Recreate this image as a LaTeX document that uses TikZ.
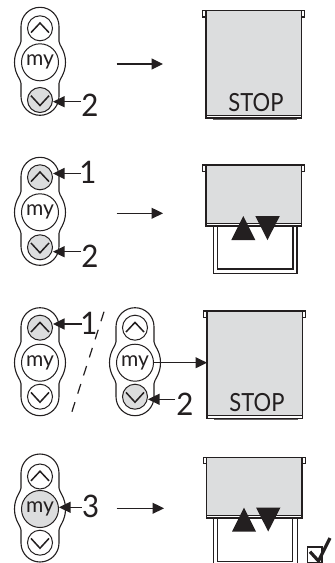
\documentclass[tikz,border=0pt]{standalone}
\usepackage{fontspec}
\setmainfont{Lato}
\usetikzlibrary{arrows.meta}
\definecolor{shade}{RGB}{220,221,222}
\definecolor{ink}{RGB}{35,31,32}
\tikzset{
  x=1pt,y=-1pt,
  btn/.style={circle,draw=ink,line width=1pt,minimum size=#1,inner sep=0pt,font=\fontsize{21}{21}\selectfont,text=ink},
  chev/.style={draw=ink,line width=1.5pt,line join=miter},
  pointer/.style={draw=ink,line width=1.2pt,-{Triangle[length=11.5pt,width=11pt]}},
  num/.style={font=\fontsize{31}{31}\selectfont,text=ink,inner sep=0pt,xscale=.95},
  blind/.style={draw=ink,line width=1.1pt,fill=shade},
  thinline/.style={draw=ink,line width=1.1pt},
  tri/.style={fill=ink,draw=none},
  stoplabel/.style={font=\fontsize{25}{25}\selectfont,text=ink,inner sep=0pt,xscale=.88}
}
% remote: #1 prefix, #2 x, #3 y(my), #4 up fill, #5 my fill, #6 down fill, #7 up offset, #8 down offset
\newcommand{\remote}[8]{
  \draw[draw=ink,line width=1.1pt] (#2-19,#3-36)
    arc[start angle=180,end angle=360,radius=19]
    -- (#2+19,#3-21) .. controls (#2+19,#3-17) and (#2+25.5,#3-12) .. (#2+25.5,#3)
    .. controls (#2+25.5,#3+12) and (#2+19,#3+17) .. (#2+19,#3+21)
    -- (#2+19,#3+34) arc[start angle=0,end angle=180,radius=19]
    -- (#2-19,#3+21) .. controls (#2-19,#3+17) and (#2-25.5,#3+12) .. (#2-25.5,#3)
    .. controls (#2-25.5,#3-12) and (#2-19,#3-17) .. (#2-19,#3-21) -- cycle;
  \node[btn=25pt,fill=#4] (#1up) at (#2,#3+#7) {};
  \node[btn=37pt,fill=#5] (#1my) at (#2,#3) {my};
  \node[btn=25pt,fill=#6] (#1dn) at (#2,#3+#8) {};
  \draw[chev] (#2-9,#3+#7+4.3) -- (#2,#3+#7-5.3) -- (#2+9,#3+#7+4.3);
  \draw[chev] (#2-9,#3+#8-4.3) -- (#2,#3+#8+5.5) -- (#2+9,#3+#8-4.3);
}
% blind: #1 left x, #2 top y, #3 bottom y
\newcommand{\blindbox}[3]{
  \draw[thinline,fill=white] (#1-3.5,#2) rectangle (#1,#2+6.5);
  \draw[thinline,fill=white] (#1+95.3,#2) rectangle (#1+98.8,#2+6.5);
  \draw[blind] (#1,#2) rectangle (#1+95.3,#3);
  \draw[thinline,fill=white] (#1,#3-2.5) rectangle (#1+95.3,#3);
}
\newcommand{\updown}[2]{
  \fill[tri] (#1-12,#2+24) -- (#1,#2) -- (#1+12,#2+24) -- cycle;
  \fill[tri] (#1+12,#2) -- (#1+36.5,#2) -- (#1+24.2,#2+24) -- cycle;
}
\begin{document}
\begin{tikzpicture}
\useasboundingbox (0,0) rectangle (335,563);
\fill[white] (0,0) rectangle (335,563);
%
\remote{a}{40}{62.3}{white}{white}{shade}{-34}{37.7}
\coordinate (a2) at (81,101.7);
\draw[pointer] (a2) -- (adn.east |- a2);
\node[num] at (90,105) {2};
\coordinate (aa) at (116.5,64); \coordinate (ab) at (163,64);
\draw[pointer] (aa) -- (ab);
\blindbox{206}{10.5}{118}
\draw[line width=1pt,draw=ink!70] (213,119.3) -- (297,119.3);
\node[stoplabel] at (256,102.7) {STOP};
%
\remote{b}{40}{212.3}{shade}{white}{shade}{-35}{35}
\coordinate (b1) at (81,173.5); \draw[pointer] (b1) -- (bup.east |- b1);
\node[num] at (88,172) {1};
\coordinate (b2) at (81,251.7); \draw[pointer] (b2) -- (bdn.east |- b2);
\node[num] at (90,255.8) {2};
\coordinate (ba) at (116.5,213.3); \coordinate (bb) at (163,213.3);
\draw[pointer] (ba) -- (bb);
\draw[thinline,fill=white] (213.3,226) rectangle (297,273.7);
\draw[thinline] (217.5,226) -- (217.5,269) -- (293,269) -- (293,226);
\blindbox{206}{165}{226}
\updown{243.3}{216}
%
\remote{c}{40}{362.7}{shade}{white}{white}{-35}{34}
\remote{d}{135}{362.7}{white}{white}{shade}{-35}{34}
\coordinate (c1) at (81.5,324); \draw[pointer] (c1) -- (cup.east |- c1);
\node[num] at (89,323.3) {1};
\coordinate (d2) at (175,399.3); \draw[pointer] (d2) -- (ddn.east |- d2);
\node[num] at (185,404.7) {2};
\coordinate (dd) at (207,362.7);
\draw[pointer] (dmy) -- (dd);
\coordinate (s1) at (104,311.7); \coordinate (s2) at (70,417.7);
\draw[draw=ink,line width=1.2pt,dash pattern=on 10pt off 9pt] (s1) -- (s2);
\blindbox{207}{311}{418.3}
\draw[line width=1pt,draw=ink!70] (214,419.5) -- (298,419.5);
\node[stoplabel] at (257,402.7) {STOP};
%
\remote{e}{40}{509}{white}{shade}{white}{-32.5}{33.7}
\coordinate (e3) at (81.5,507.3); \draw[pointer] (e3) -- (emy.east |- e3);
\node[num] at (90.7,506) {3};
\coordinate (ea) at (116.5,508.3); \coordinate (eb) at (164,508.3);
\draw[pointer] (ea) -- (eb);
\draw[thinline] (213.5,518) -- (213.5,563) (297.3,518) -- (297.3,563);
\draw[thinline] (217.7,518) -- (217.7,561.7) -- (292.7,561.7) -- (292.7,518);
\blindbox{206.7}{457.3}{518}
\updown{244}{507.5}
\draw[thinline] (322,563) -- (322,547) -- (307.3,547) -- (307.3,563) -- cycle;
\draw[draw=ink,line width=3.2pt] (310,551.7) -- (318.5,561) -- (330,538);
\end{tikzpicture}
\end{document}
